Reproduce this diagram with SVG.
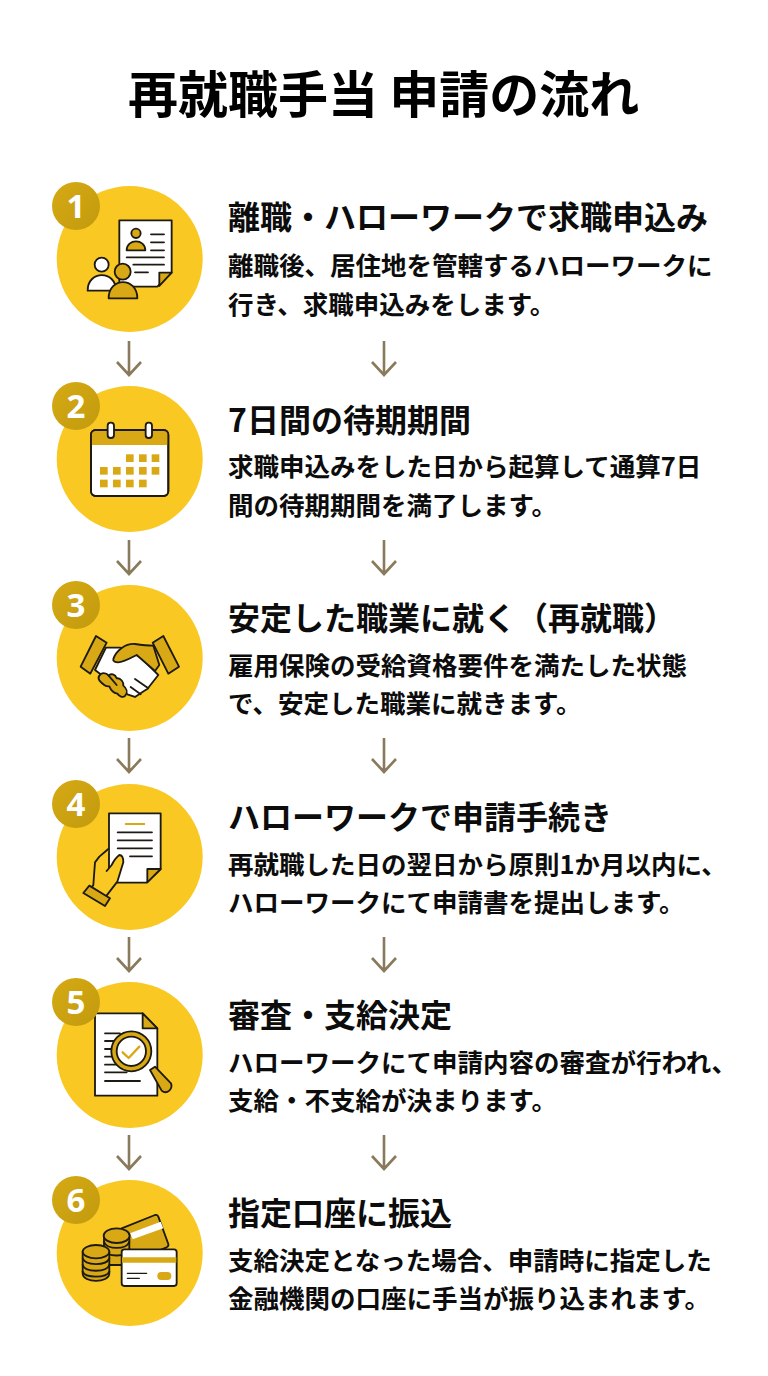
<svg xmlns="http://www.w3.org/2000/svg" width="768" height="1376" viewBox="0 0 768 1376">
<defs><linearGradient id="bg" x1="0" y1="0" x2="1" y2="1"><stop offset="0" stop-color="#d6aa14"/><stop offset="1" stop-color="#c29a0e"/></linearGradient></defs>
<style>
text{font-family:"Noto Sans CJK JP","Noto Sans CJK SC",sans-serif;fill:#0c0c0c}
.h{font-size:50px;font-weight:700;fill:#000}
.t{font-size:32px;font-weight:700}
.b{font-size:25.5px;font-weight:700}
.c{fill:#f9c823}
.bd{fill:url(#bg)}
.n{font-family:"Noto Sans","DejaVu Sans",sans-serif;font-size:33px;font-weight:700;fill:#fff;text-anchor:middle}
.a{fill:none;stroke:#8a7a5c;stroke-width:2.6}
.i{stroke:#1d1a12;stroke-width:5.5;stroke-linejoin:round;stroke-linecap:round}
.w{fill:#fff}.g{fill:#d9a815}.o{fill:none}
</style>
<rect width="768" height="1376" fill="#fff"/>
<text class="h" x="128" y="113">再就職手当 申請の流れ</text>
<g id="connectors">
<path class="a" d="M129 341V374M117 362L129 375L141 362M384 341V374M372 362L384 375L396 362"/>
<path class="a" d="M129 540V573M117 561L129 574L141 561M384 540V573M372 561L384 574L396 561"/>
<path class="a" d="M129 738V771M117 759L129 772L141 759M384 738V771M372 759L384 772L396 759"/>
<path class="a" d="M129 937V970M117 958L129 971L141 958M384 937V970M372 958L384 971L396 958"/>
<path class="a" d="M129 1135V1168M117 1156L129 1169L141 1156M384 1135V1168M372 1156L384 1169L396 1156"/>
</g>
<g id="step1">
<circle class="c" cx="129.7" cy="259" r="73"/>
<g class="i" transform="translate(40,170) scale(.3333)">
<path class="w" d="M238 151H395V308L352 350H238Z"/>
<path class="g" d="M395 308H358V348Z"/>
<circle class="g" cx="288" cy="190" r="14"/>
<path class="g" d="M260 241C260 205 316 205 316 241Z"/>
<path class="o" d="M333 193H372M333 217H372M333 241H372M260 262H372M280 284H372M285 307H324"/>
<circle class="w" cx="185" cy="284" r="21"/>
<path class="w" d="M143 362C143 300 228 300 228 362Z"/>
<circle class="g" cx="248" cy="305" r="24"/>
<path class="g" d="M206 385C206 320 292 320 292 385Z"/>
</g>
<circle class="bd" cx="76" cy="206" r="24"/><text class="n" x="76" y="218">1</text>
<text class="t" x="228" y="229">離職・ハローワークで求職申込み</text>
<text class="b" x="228" y="275">離職後、居住地を管轄するハローワークに</text>
<text class="b" x="228" y="314">行き、求職申込みをします。</text>
</g>
<g id="step2">
<circle class="c" cx="129.7" cy="459" r="73"/>
<g class="i" transform="translate(40,375) scale(.3333)">
<rect class="w" x="153" y="165" width="232" height="198" rx="14"/>
<path class="g" d="M153 210V179Q153 165 167 165H371Q385 165 385 179V210Z" stroke="none"/>
<rect class="o" x="153" y="165" width="232" height="198" rx="14"/>
<rect class="w" x="203" y="143" width="19" height="46" rx="9"/><rect class="w" x="317" y="143" width="19" height="46" rx="9"/>
<g class="g" stroke="none"><rect x="258" y="238" width="23" height="23"/><rect x="297" y="238" width="23" height="23"/><rect x="335" y="238" width="23" height="23"/><rect x="180" y="276" width="23" height="23"/><rect x="219" y="276" width="23" height="23"/><rect x="258" y="276" width="23" height="23"/><rect x="297" y="276" width="23" height="23"/><rect x="335" y="276" width="23" height="23"/><rect x="180" y="314" width="23" height="23"/><rect x="219" y="314" width="23" height="23"/><rect x="258" y="314" width="23" height="23"/><rect x="297" y="314" width="23" height="23"/></g>
</g>
<circle class="bd" cx="76" cy="406" r="24"/><text class="n" x="76" y="418">2</text>
<text class="t" x="228" y="432">7日間の待期期間</text>
<text class="b" x="228" y="476">求職申込みをした日から起算して通算7日</text>
<text class="b" x="228" y="515">間の待期期間を満了します。</text>
</g>
<g id="step3">
<circle class="c" cx="129.7" cy="658" r="73"/>
<g class="i" transform="translate(40,575) scale(.3333)">
<path class="w" d="M198 218L165 285L262 358L285 366L312 348L322 342L355 300L300 245L240 218Z"/>
<path class="g" d="M178 302C184 292 198 292 206 302C212 294 226 298 230 310C242 308 252 322 250 332C260 340 264 352 256 362C248 370 238 364 232 356C222 354 212 344 208 334C196 336 188 328 178 316C175 311 175 306 178 302Z"/>
<path class="o" d="M285 312L325 340M272 336L302 358M206 302L230 330"/>
<path class="g" d="M220 252C228 228 255 205 285 207C305 210 325 212 340 212L358 270L345 288L290 240C270 250 250 262 235 262C225 262 218 258 220 252Z"/>
<path class="g" d="M168 183L200 203L151 296L122 275Z"/>
<path class="g" d="M370 183L338 203L385 296L417 275Z"/>
</g>
<circle class="bd" cx="76" cy="605" r="24"/><text class="n" x="76" y="617">3</text>
<text class="t" x="228" y="630">安定した職業に就く（再就職）</text>
<text class="b" x="228" y="675">雇用保険の受給資格要件を満たした状態</text>
<text class="b" x="228" y="713">で、安定した職業に就きます。</text>
</g>
<g id="step4">
<circle class="c" cx="129.7" cy="857" r="73"/>
<g class="i" transform="translate(40,775) scale(.3333)">
<path class="w" d="M207 115H362V282L320 323H207Z"/>
<path class="g" d="M362 282H322V322Z"/>
<path d="M257 147H313" class="o" style="stroke:#d9a815"/>
<path class="o" d="M233 172H336M233 196H336M233 220H336M270 244H336"/>
<path class="c" d="M205 222L178 245L165 262L160 330L150 345L195 368L232 320L250 262Q250 240 238 240Q225 250 215 270L200 288"/>
<path class="g" d="M148 332L210 370L195 393L130 354Z"/>
</g>
<circle class="bd" cx="76" cy="804" r="24"/><text class="n" x="76" y="816">4</text>
<text class="t" x="228" y="829">ハローワークで申請手続き</text>
<text class="b" x="228" y="874">再就職した日の翌日から原則1か月以内に、</text>
<text class="b" x="228" y="912">ハローワークにて申請書を提出します。</text>
</g>
<g id="step5">
<circle class="c" cx="129.7" cy="1055" r="73"/>
<g class="i" transform="translate(40,970) scale(.3333)">
<path class="w" d="M165 130H308L352 175V377H165Z"/>
<path class="g" d="M308 130V175H352Z"/>
<path class="o" d="M195 190H240M195 213H225M195 237H215M195 260H215M195 284H240M195 307H260M195 333H300"/>
<path class="g" d="M330 300L345 290L393 340Q398 352 388 362Q376 372 365 362Z"/>
<circle class="g" cx="274" cy="244" r="60"/>
<circle class="w" cx="274" cy="244" r="44"/>
<path d="M248 247L266 264L298 230" fill="none" style="stroke:#d9a815;stroke-width:7"/>
</g>
<circle class="bd" cx="76" cy="1002" r="24"/><text class="n" x="76" y="1014">5</text>
<text class="t" x="228" y="1027">審査・支給決定</text>
<text class="b" x="228" y="1072">ハローワークにて申請内容の審査が行われ、</text>
<text class="b" x="228" y="1110">支給・不支給が決まります。</text>
</g>
<g id="step6">
<circle class="c" cx="129.7" cy="1253" r="73"/>
<g class="i" transform="translate(40,1170) scale(.3333)">
<path class="g" d="M245 175L345 135Q352 133 355 140L385 222Q387 228 380 232L300 265L260 240Z"/>
<path class="w" d="M270 190L362 155L370 175L278 208Z" stroke="none"/>
<path class="g" d="M192 200V285H268V200Z"/>
<ellipse class="g" cx="230" cy="197" rx="39" ry="22"/>
<path class="o" d="M192 215C200 240 260 240 268 215M192 240C200 262 260 262 268 240"/>
<path class="g" d="M128 245V310C128 340 208 340 208 310V245Z"/>
<ellipse class="g" cx="168" cy="245" rx="40" ry="20"/>
<path class="o" d="M128 265C135 288 200 288 208 265M128 285C135 308 200 308 208 285M128 305C135 325 200 325 208 305"/>
<rect class="w" x="245" y="238" width="165" height="110" rx="8"/>
<path class="g" d="M246 262H409V278H246Z" stroke="none"/>
<path class="o" d="M262 310H320M262 325H298" style="stroke-width:4"/>
<rect x="352" y="306" width="42" height="24" rx="12" class="g" stroke="none"/>
</g>
<circle class="bd" cx="76" cy="1200" r="24"/><text class="n" x="76" y="1212">6</text>
<text class="t" x="228" y="1225">指定口座に振込</text>
<text class="b" x="228" y="1270">支給決定となった場合、申請時に指定した</text>
<text class="b" x="228" y="1308">金融機関の口座に手当が振り込まれます。</text>
</g>
</svg>
